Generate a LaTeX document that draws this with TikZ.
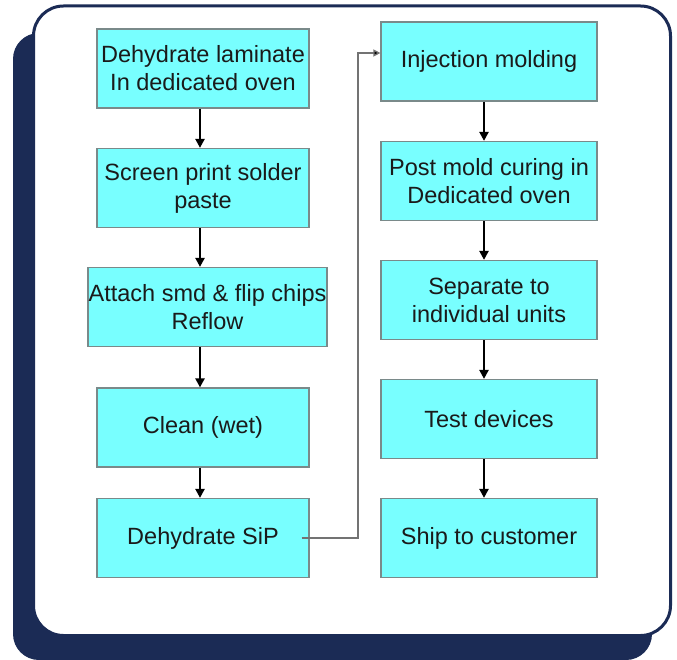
\documentclass[tikz,border=0pt]{standalone}
\usepackage{fontspec}
\setmainfont{Liberation Sans}
\usetikzlibrary{arrows.meta}
\definecolor{navy}{HTML}{1B2B55}
\definecolor{boxcyan}{HTML}{78FFFF}
\definecolor{boxline}{HTML}{7A8A8A}
\definecolor{txt}{HTML}{1A1A1A}
\tikzset{
  stepbox/.style={draw=boxline, line width=1.2pt, fill=boxcyan, inner sep=0pt, align=center,
    text=txt, font=\fontsize{23.5}{28}\selectfont, minimum height=79pt},
  flow/.style={line width=2.8pt, -{Triangle[length=9pt,width=9pt]}},
  link/.style={draw=gray!90!black, line width=1.3pt, -{Triangle[length=7pt,width=7pt,fill=black]}}
}
\begin{document}
\begin{tikzpicture}[x=1pt,y=-1pt]
\useasboundingbox (0,0) rectangle (677,660);
\fill[navy, rounded corners=26pt] (13,33) rectangle (652,660);
\draw[navy, line width=3pt, fill=white, rounded corners=30pt] (33.5,6) rectangle (670.5,635.5);

\node[stepbox, minimum width=212pt] (L1) at (203,68.5) {Dehydrate laminate\\In dedicated oven};
\node[stepbox, minimum width=212pt] (L2) at (203,188) {Screen print solder\\paste};
\node[stepbox, minimum width=239pt] (L3) at (207.5,307) {Attach smd \& flip chips\\Reflow};
\node[stepbox, minimum width=212pt] (L4) at (203,427.5) {Clean (wet)};
\node[stepbox, minimum width=212pt] (L5) at (203,538) {Dehydrate SiP};

\node[stepbox, minimum width=216pt] (R1) at (489,61.5) {Injection molding};
\node[stepbox, minimum width=216pt] (R2) at (489,181) {Post mold curing in\\Dedicated oven};
\node[stepbox, minimum width=216pt] (R3) at (489,300) {Separate to\\individual units};
\node[stepbox, minimum width=216pt] (R4) at (489,419) {Test devices};
\node[stepbox, minimum width=216pt] (R5) at (489,538) {Ship to customer};

\draw[flow] ([xshift=-3pt]L1.south) -- ([xshift=-3pt]L2.north);
\draw[flow] ([xshift=-3pt]L2.south) -- ([xshift=-7.5pt]L3.north);
\draw[flow] ([xshift=-7.5pt]L3.south) -- ([xshift=-3pt]L4.north);
\draw[flow] ([xshift=-3pt]L4.south) -- ([xshift=-3pt]L5.north);

\draw[flow] ([xshift=-5pt]R1.south) -- ([xshift=-5pt]R2.north);
\draw[flow] ([xshift=-5pt]R2.south) -- ([xshift=-5pt]R3.north);
\draw[flow] ([xshift=-5pt]R3.south) -- ([xshift=-5pt]R4.north);
\draw[flow] ([xshift=-5pt]R4.south) -- ([xshift=-5pt]R5.north);

\coordinate (bend) at (358,538);
\draw[link] ([xshift=-8pt]L5.east) -- (bend) |- ([yshift=8.5pt]R1.west);
\end{tikzpicture}
\end{document}
